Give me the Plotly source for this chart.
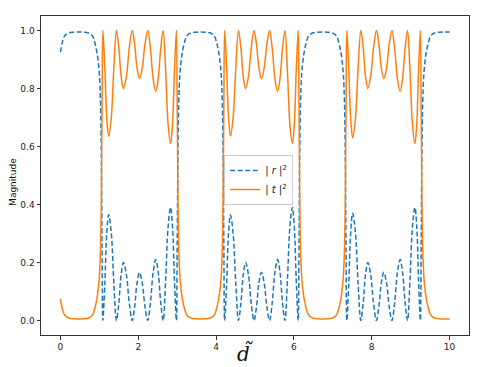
import plotly.graph_objs as go

# values, one list per stretch of d~
x_gap0 = [0.00, 0.04, 0.11, 0.22, 0.34, 0.465, 0.59, 0.71, 0.82, 0.89, 0.93, 0.96, 1.00, 1.03, 1.05, 1.07]
t_gap0 = [0.075, 0.045, 0.018, 0.008, 0.006, 0.005, 0.006, 0.008, 0.018, 0.045, 0.07, 0.095, 0.15, 0.25, 0.42, 0.75]
r_gap0 = [0.925, 0.955, 0.982, 0.992, 0.994, 0.995, 0.994, 0.992, 0.982, 0.955, 0.93, 0.905, 0.85, 0.75, 0.58, 0.25]

x_band1 = [1.09, 1.14, 1.19, 1.24, 1.307, 1.373, 1.44, 1.50, 1.56, 1.62, 1.695, 1.77, 1.845, 1.907, 1.968, 2.03,
           2.102, 2.173, 2.245, 2.313, 2.382, 2.45, 2.513, 2.577, 2.64, 2.703, 2.767, 2.83, 2.88, 2.93, 2.98]
t_band1 = [1.0, 0.874, 0.699, 0.635, 0.699, 0.874, 1.0, 0.941, 0.842, 0.80, 0.842, 0.941, 1.0, 0.953, 0.871, 0.835,
           0.871, 0.953, 1.0, 0.938, 0.834, 0.79, 0.834, 0.938, 1.0, 0.862, 0.676, 0.61, 0.676, 0.862, 1.0]
r_band1 = [0.0, 0.126, 0.301, 0.365, 0.301, 0.126, 0.0, 0.059, 0.158, 0.20, 0.158, 0.059, 0.0, 0.047, 0.129, 0.165,
           0.129, 0.047, 0.0, 0.062, 0.166, 0.21, 0.166, 0.062, 0.0, 0.138, 0.324, 0.39, 0.324, 0.138, 0.0]

x_gap1 = [3.00, 3.02, 3.04, 3.07, 3.11, 3.14, 3.18, 3.25, 3.36, 3.48, 3.60, 3.72, 3.84, 3.95, 4.02, 4.06, 4.09, 4.13, 4.16, 4.18, 4.20]
t_gap1 = [0.75, 0.42, 0.25, 0.15, 0.095, 0.07, 0.045, 0.018, 0.008, 0.006, 0.005, 0.006, 0.008, 0.018, 0.045, 0.07, 0.095, 0.15, 0.25, 0.42, 0.75]
r_gap1 = [0.25, 0.58, 0.75, 0.85, 0.905, 0.93, 0.955, 0.982, 0.992, 0.994, 0.995, 0.994, 0.992, 0.982, 0.955, 0.93, 0.905, 0.85, 0.75, 0.58, 0.25]

x_band2 = [4.22, 4.27, 4.32, 4.37, 4.438, 4.507, 4.575, 4.637, 4.698, 4.76, 4.832, 4.903, 4.975, 5.038, 5.102, 5.165,
           5.235, 5.305, 5.375, 5.443, 5.512, 5.58, 5.643, 5.707, 5.77, 5.833, 5.897, 5.96, 6.01, 6.06, 6.11]
t_band2 = [1.0, 0.874, 0.70, 0.636, 0.70, 0.874, 1.0, 0.941, 0.842, 0.80, 0.842, 0.941, 1.0, 0.953, 0.870, 0.834,
           0.870, 0.953, 1.0, 0.938, 0.834, 0.79, 0.834, 0.938, 1.0, 0.862, 0.676, 0.61, 0.676, 0.862, 1.0]
r_band2 = [0.0, 0.126, 0.30, 0.364, 0.30, 0.126, 0.0, 0.059, 0.158, 0.20, 0.158, 0.059, 0.0, 0.047, 0.130, 0.166,
           0.130, 0.047, 0.0, 0.062, 0.166, 0.21, 0.166, 0.062, 0.0, 0.138, 0.324, 0.39, 0.324, 0.138, 0.0]

x_gap2 = [6.13, 6.15, 6.17, 6.20, 6.24, 6.27, 6.31, 6.38, 6.49, 6.61, 6.735, 6.86, 6.98, 7.09, 7.16, 7.20, 7.23, 7.27, 7.30, 7.32, 7.34]
t_gap2 = [0.75, 0.42, 0.25, 0.15, 0.095, 0.07, 0.045, 0.018, 0.008, 0.006, 0.005, 0.006, 0.008, 0.018, 0.045, 0.07, 0.095, 0.15, 0.25, 0.42, 0.75]
r_gap2 = [0.25, 0.58, 0.75, 0.85, 0.905, 0.93, 0.955, 0.982, 0.992, 0.994, 0.995, 0.994, 0.992, 0.982, 0.955, 0.93, 0.905, 0.85, 0.75, 0.58, 0.25]

x_band3 = [7.36, 7.41, 7.46, 7.51, 7.58, 7.65, 7.72, 7.78, 7.84, 7.90, 7.973, 8.047, 8.12, 8.183, 8.247, 8.31,
           8.38, 8.45, 8.52, 8.59, 8.66, 8.73, 8.793, 8.857, 8.92, 8.983, 9.047, 9.11, 9.157, 9.203, 9.25]
t_band3 = [1.0, 0.872, 0.695, 0.63, 0.695, 0.872, 1.0, 0.941, 0.842, 0.80, 0.842, 0.941, 1.0, 0.953, 0.870, 0.834,
           0.870, 0.953, 1.0, 0.938, 0.834, 0.79, 0.834, 0.938, 1.0, 0.862, 0.676, 0.61, 0.676, 0.862, 1.0]
r_band3 = [0.0, 0.128, 0.305, 0.37, 0.305, 0.128, 0.0, 0.059, 0.158, 0.20, 0.158, 0.059, 0.0, 0.047, 0.130, 0.166,
           0.130, 0.047, 0.0, 0.062, 0.166, 0.21, 0.166, 0.062, 0.0, 0.138, 0.324, 0.39, 0.324, 0.138, 0.0]

x_gap3 = [9.27, 9.29, 9.31, 9.34, 9.38, 9.41, 9.45, 9.52, 9.63, 9.75, 9.87, 10.0]
t_gap3 = [0.75, 0.42, 0.25, 0.15, 0.095, 0.07, 0.045, 0.018, 0.008, 0.006, 0.005, 0.005]
r_gap3 = [0.25, 0.58, 0.75, 0.85, 0.905, 0.93, 0.955, 0.982, 0.992, 0.994, 0.995, 0.995]

d = x_gap0 + x_band1 + x_gap1 + x_band2 + x_gap2 + x_band3 + x_gap3
r2 = r_gap0 + r_band1 + r_gap1 + r_band2 + r_gap2 + r_band3 + r_gap3
t2 = t_gap0 + t_band1 + t_gap1 + t_band2 + t_gap2 + t_band3 + t_gap3

x_ticks = [0, 2, 4, 6, 8, 10]
y_ticks = [0.0, 0.2, 0.4, 0.6, 0.8, 1.0]

fig = go.Figure()

fig.add_trace(
    go.Scatter(
        x=d, y=r2, mode='lines', name='| <i>r</i> |<sup>2</sup>',
        line=dict(color='#1f77b4', width=1.5, dash='5px,2.5px', shape='spline', smoothing=1),
    )
)
fig.add_trace(
    go.Scatter(
        x=d, y=t2, mode='lines', name='| <i>t</i> |<sup>2</sup>',
        line=dict(color='#ff7f0e', width=1.5, shape='spline', smoothing=1),
    )
)

axis_style = dict(
    showgrid=False, zeroline=False, showline=True, mirror=True, automargin=False,
    linecolor='#333333', linewidth=1, ticks='outside', ticklen=3.5,
    tickwidth=0.8, tickcolor='#333333', tickfont=dict(size=9, color='#222222'),
)

# page body has an 8px margin, so the figure is 8px smaller and margins shifted
fig.update_layout(
    width=489, height=359,
    margin=dict(l=33, r=28, t=8, b=32),
    paper_bgcolor='white', plot_bgcolor='white',
    font=dict(family='DejaVu Sans', color='#222222'),
    showlegend=True,
    legend=dict(
        x=0.428, y=0.564, xanchor='left', yanchor='top',
        bgcolor='rgba(255,255,255,0.8)', bordercolor='#cccccc', borderwidth=1,
        font=dict(size=10), itemwidth=30, tracegroupgap=2,
    ),
    xaxis=dict(range=[-0.5, 10.5], tickvals=x_ticks, **axis_style),
    yaxis=dict(range=[-0.05, 1.05], tickvals=y_ticks, tickformat='.1f', **axis_style),
)

# axis titles as annotations so the plot area stays put
fig.add_annotation(
    text='Magnitude', xref='paper', yref='paper', x=0, y=0.48, xshift=-35,
    textangle=-90, showarrow=False, font=dict(size=9, color='#111111'),
)
fig.add_annotation(
    text='<i>d\u0303</i>', xref='paper', yref='paper', x=0.477, y=-0.056,
    yanchor='middle', showarrow=False, font=dict(family='DejaVu Serif', size=20, color='#111111'),
)

fig.write_html('out.html')
